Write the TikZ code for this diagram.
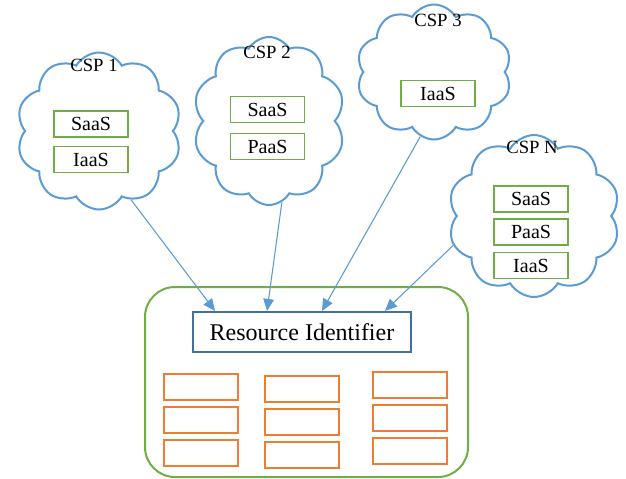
\documentclass[tikz,border=0pt]{standalone}
\usepackage{fontspec}
\setmainfont{Liberation Serif}
\usetikzlibrary{shapes.symbols,arrows.meta}
\definecolor{cloudblue}{HTML}{5B9BD5}
\definecolor{svcgreen}{HTML}{70AD47}
\definecolor{slotorange}{HTML}{ED7D31}
\definecolor{riblue}{HTML}{41719C}
\def\px{0.75pt}
\tikzset{
  csp/.style={cloud, cloud puffs=10, cloud puff arc=120, cloud ignores aspect,
    draw=cloudblue, line width=1.5pt, inner sep=0pt},
  cspname/.style={font=\fontsize{14}{16}\selectfont},
  svc/.style={draw=svcgreen, line width=1.4pt, minimum width=74*\px,
    minimum height=26*\px, inner sep=0pt, font=\fontsize{15}{17}\selectfont},
  slot/.style={draw=slotorange, line width=1.5pt, minimum width=74*\px,
    minimum height=26*\px, inner sep=0pt},
  feed/.style={draw=cloudblue, line width=0.8pt, -{Triangle[length=9pt,width=8pt]}}
}
\begin{document}
\begin{tikzpicture}[x=0.75pt,y=-0.75pt]
\useasboundingbox (0,0) rectangle (626,479);

% providers
\node[csp, minimum width=165*\px, minimum height=157*\px] (c1) at (99,131) {};
\node[csp, minimum width=152*\px, minimum height=168*\px] (c2) at (269,121) {};
\node[csp, minimum width=155*\px, minimum height=135*\px] (c3) at (434,72) {};
\node[csp, minimum width=172*\px, minimum height=162*\px] (cn) at (534,216) {};

\node[cspname] (c1name) at (94,65) {CSP 1};
\node[cspname] (c2name) at (267,52) {CSP 2};
\node[cspname] (c3name) at (438,20) {CSP 3};
\node[cspname] (cnname) at (532,147) {CSP N};

\node[svc] (c1saas) at (91,124) {SaaS};
\node[svc] (c1iaas) at (91,159.5) {IaaS};
\node[svc] (c2saas) at (267.5,109.5) {SaaS};
\node[svc] (c2paas) at (267.5,146.5) {PaaS};
\node[svc] (c3iaas) at (438,93.5) {IaaS};
\node[svc] (cnsaas) at (531,199) {SaaS};
\node[svc] (cnpaas) at (531,232) {PaaS};
\node[svc] (cniaas) at (531,265.5) {IaaS};

% broker
\node[draw=svcgreen, line width=1.5pt, rounded corners=30*\px,
  minimum width=323*\px, minimum height=190*\px] (host) at (306.5,382) {};
\node[draw=riblue, line width=1.6pt, minimum width=218*\px, minimum height=40*\px,
  font=\fontsize{18}{20}\selectfont] (ri) at (302,332) {Resource Identifier};

\foreach \x/\y [count=\i] in {201/387, 301.5/388.5, 410/385}{
  \foreach \r in {0,1,2}
    \node[slot] (slot\i\r) at (\x,\y+33*\r) {};
}

\draw[feed] (c1.-65) -- ([xshift=-87*\px]ri.north);
\draw[feed] (c2.-81) -- ([xshift=-35*\px]ri.north);
\draw[feed] (c3.-102) -- ([xshift=20*\px]ri.north);
\draw[feed] (cn.200) -- ([xshift=83*\px]ri.north);
\end{tikzpicture}
\end{document}
